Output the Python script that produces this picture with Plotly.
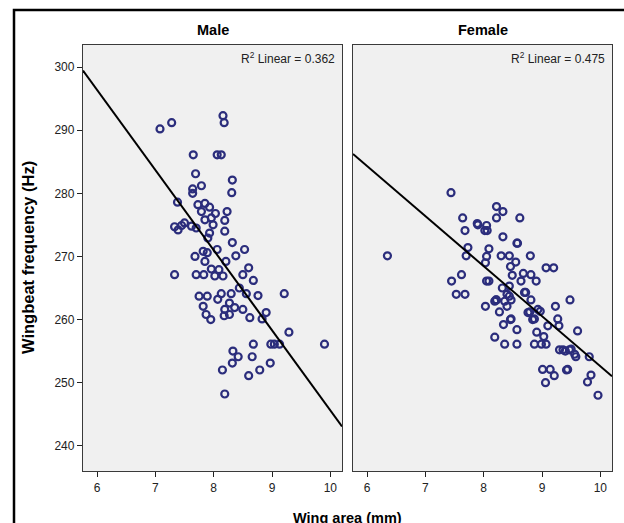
import plotly.graph_objects as go

# ---- data ----
male_area = [7.08, 7.28, 8.16, 8.18, 7.65, 8.06, 8.13, 7.69, 7.79, 7.64, 7.64, 8.32, 8.31,
             7.38, 7.73, 7.85, 7.93, 7.79, 8.03, 8.23, 7.85, 7.96, 7.99, 8.19, 8.19, 7.33,
             7.45, 7.50, 7.62, 7.70, 7.39, 7.93, 7.90, 8.32, 8.06, 8.53, 7.82, 7.68, 7.89,
             8.38, 7.85, 8.21, 7.33, 7.70, 7.83, 7.96, 8.02, 8.09, 8.16, 8.60, 8.50, 8.68,
             7.75, 7.89, 8.13, 8.07, 8.30, 8.44, 8.56, 8.76, 9.21, 7.82, 8.27, 8.19, 8.36,
             8.50, 7.87, 7.95, 8.18, 8.27, 8.62, 8.83, 8.90, 9.29, 8.68, 8.98, 9.04, 9.13,
             8.33, 8.42, 8.66, 8.32, 8.15, 8.79, 8.97, 8.60, 8.19, 9.90]
male_freq = [290.2, 291.2, 292.3, 291.2, 286.1, 286.1, 286.1, 283.1, 281.2, 280.7, 280.0, 282.1, 280.1,
             278.6, 278.2, 278.4, 277.8, 277.1, 276.8, 277.1, 275.8, 276.1, 275.0, 275.7, 274.0, 274.7,
             274.9, 275.3, 274.8, 274.5, 274.2, 273.7, 272.9, 272.2, 271.1, 271.1, 270.8, 270.0, 270.6,
             270.1, 269.2, 269.2, 267.1, 267.1, 267.1, 268.0, 266.9, 267.9, 266.9, 268.2, 267.1, 266.2,
             263.7, 263.7, 264.1, 263.2, 264.1, 265.0, 264.1, 263.8, 264.1, 262.1, 262.6, 261.6, 261.9,
             261.6, 260.8, 260.0, 260.6, 260.8, 260.3, 260.1, 261.1, 258.0, 256.1, 256.1, 256.1, 256.1,
             255.0, 254.1, 254.1, 253.1, 252.0, 252.0, 253.1, 251.1, 248.2, 256.1]

female_area = [6.35, 7.44, 7.64, 7.68, 7.90, 8.05, 8.02, 8.22, 8.22, 7.73, 7.70, 8.09, 8.05,
               7.62, 7.45, 7.53, 7.68, 8.05, 8.03, 8.19, 8.33, 8.62, 7.89, 8.06, 8.33, 8.58,
               8.03, 8.30, 8.44, 8.80, 8.55, 8.46, 8.49, 8.68, 8.81, 8.90, 8.32, 8.44, 8.64,
               8.40, 8.70, 8.21, 8.36, 8.47, 8.81, 8.27, 8.40, 8.46, 8.34, 8.76, 8.84, 8.93,
               8.22, 8.44, 8.47, 8.19, 8.36, 8.57, 8.57, 8.72, 8.79, 8.87, 8.97, 8.91, 9.03,
               8.87, 8.99, 9.07, 9.23, 9.10, 9.27, 9.29, 9.48, 9.07, 9.20, 9.61, 9.36, 9.47,
               9.56, 9.01, 9.14, 9.21, 9.44, 9.06, 9.30, 9.40, 9.50, 9.58, 9.42, 9.81, 9.84,
               9.78, 9.96, 8.57, 8.09]
female_freq = [270.1, 280.1, 276.1, 274.1, 275.0, 274.9, 274.1, 277.9, 276.1, 271.4, 270.1, 271.2, 270.0,
               267.1, 266.1, 264.0, 264.0, 266.1, 262.1, 262.9, 277.1, 276.1, 275.2, 274.1, 273.1, 272.1,
               269.0, 270.1, 270.1, 270.1, 269.1, 268.4, 267.0, 267.3, 267.1, 266.1, 265.0, 265.3, 266.1,
               264.0, 264.3, 263.1, 262.9, 263.1, 263.1, 261.2, 262.1, 260.0, 259.2, 261.1, 260.0, 261.6,
               263.1, 263.7, 260.1, 257.2, 256.1, 258.4, 256.1, 264.3, 261.2, 260.1, 261.3, 258.0, 257.3,
               256.1, 256.1, 256.1, 262.1, 259.0, 260.1, 259.0, 263.1, 268.2, 268.2, 258.2, 255.2, 255.2,
               254.5, 252.1, 252.1, 251.1, 252.1, 250.0, 255.2, 255.0, 255.3, 254.1, 252.0, 254.1, 251.2,
               250.1, 248.0, 272.1, 266.1]

# fitted lines (intercept, slope)
male_fit = (372.6, -12.7)
female_fit = (331.9, -7.93)
r2_labels = ["R<sup>2</sup> Linear = 0.362", "R<sup>2</sup> Linear = 0.475"]
panel_titles = ["Male", "Female"]
x_ticks = [6, 7, 8, 9, 10]
y_ticks = [240, 250, 260, 270, 280, 290, 300]

# ---- figure ----
FONT = "Liberation Sans, Arial, sans-serif"
MARK = "#2B2D7C"
x_range = [5.76, 10.2]
W, H = 624, 523
ML, MR, MT, MB = 83, 12, 45, 52
pw, ph = W - ML - MR, H - MT - MB

fig = go.Figure()
for i, (xs, ys, fit) in enumerate([(male_area, male_freq, male_fit),
                                   (female_area, female_freq, female_fit)]):
    xa = "x" if i == 0 else "x2"
    ya = "y" if i == 0 else "y2"
    fig.add_trace(go.Scatter(x=xs, y=ys, mode="markers", xaxis=xa, yaxis=ya,
                             marker=dict(symbol="circle-open", size=7, color=MARK,
                                         line=dict(width=2.2, color=MARK)),
                             showlegend=False, hoverinfo="x+y"))
    lx = x_range
    ly = [fit[0] + fit[1] * v for v in lx]
    fig.add_trace(go.Scatter(x=lx, y=ly, mode="lines", xaxis=xa, yaxis=ya,
                             line=dict(color="black", width=2), showlegend=False,
                             hoverinfo="skip"))

d1 = [0, 259 / pw]
d2 = [270 / pw, 1]
axis_common = dict(showgrid=False, zeroline=False, showline=True, mirror=True,
                   linecolor="#3a3a3a", linewidth=1.3, ticks="outside", ticklen=5,
                   tickcolor="#222", tickwidth=1.2,
                   tickfont=dict(family=FONT, size=12, color="#222"))
fig.update_layout(
    width=W, height=H,
    margin=dict(l=ML, r=MR, t=MT, b=MB),
    paper_bgcolor="white", plot_bgcolor="#F0F0F0",
    font=dict(family=FONT),
    xaxis=dict(domain=d1, range=x_range, tickvals=x_ticks, **axis_common),
    xaxis2=dict(domain=d2, range=x_range, tickvals=x_ticks, anchor="y2", **axis_common),
    yaxis=dict(range=[236.0, 303.5], tickvals=y_ticks, **axis_common),
    yaxis2=dict(range=[236.0, 303.5], tickvals=y_ticks, anchor="x2", matches="y",
                showticklabels=False, **{k: v for k, v in axis_common.items() if k != "ticks"},
                ticks=""),
)

ann = []
for i, dom in enumerate([d1, d2]):
    ann.append(dict(text=f"<b>{panel_titles[i]}</b>", x=(dom[0] + dom[1]) / 2, y=1 + 15 / ph,
                    xref="paper", yref="paper", xanchor="center", yanchor="middle",
                    showarrow=False, font=dict(family=FONT, size=14.5, color="black")))
    ann.append(dict(text=r2_labels[i], x=dom[1], y=1, xref="paper", yref="paper",
                    xanchor="right", yanchor="top", xshift=-5, yshift=-3, showarrow=False,
                    font=dict(family=FONT, size=12, color="#222")))
ann.append(dict(text="<b>Wingbeat frequency (Hz)</b>", x=(28 - ML) / pw, y=0.5,
                xref="paper", yref="paper", textangle=-90, xanchor="center", yanchor="middle",
                showarrow=False, font=dict(family=FONT, size=16.5, color="black")))
ann.append(dict(text="<b>Wing area (mm)</b>", x=0.5, y=-(518 - (H - MB)) / ph,
                xref="paper", yref="paper", xanchor="center", yanchor="middle",
                showarrow=False, font=dict(family=FONT, size=14.5, color="black")))
fig.update_layout(annotations=ann)

# outer frame (left/top visible, rest cropped)
fig.add_shape(type="rect", xref="paper", yref="paper",
              x0=(14 - ML) / pw, x1=1.2, y0=-0.3, y1=(H - MB - 10) / ph,
              line=dict(color="black", width=2.5), fillcolor="rgba(0,0,0,0)", layer="above")

fig.write_html("out.html", config={"displayModeBar": False},
               post_script="document.body.style.margin='0';document.body.style.overflow='hidden';")
